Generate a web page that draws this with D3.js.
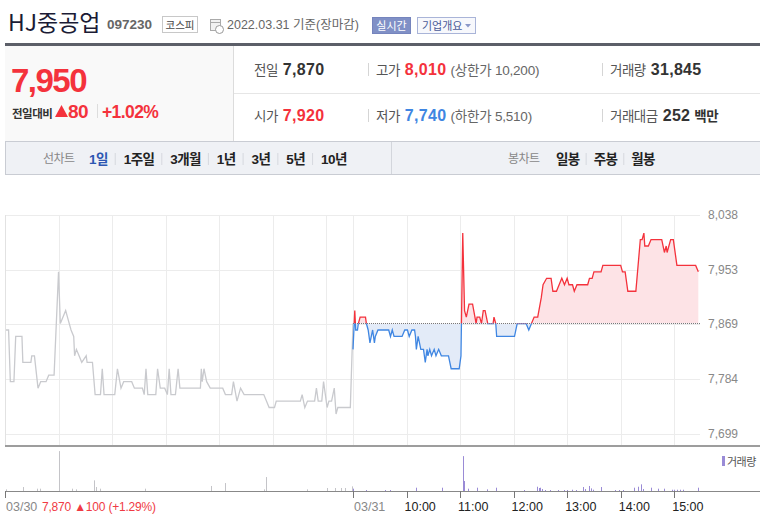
<!DOCTYPE html>
<html>
<head>
<meta charset="utf-8">
<script src="https://cdn.jsdelivr.net/npm/d3@7"></script>
<style>
body { margin: 0; background: #fff; }
svg { display: block; font-family: "Liberation Sans", "Noto Sans CJK KR", sans-serif; }
.kr { font-family: "Noto Sans CJK KR", sans-serif; }
</style>
</head>
<body>
<svg id="chart" width="760" height="518"></svg>
<script>
// 03/30 (previous day) minute line, grey
var day1Times = [
  "09:00","09:04","09:06","09:10","09:12","09:19","09:20","09:29","09:30","09:33",
  "09:37","09:40","09:46","09:49","09:55","10:00","10:02","10:05","10:08","10:10",
  "10:14","10:17","10:18","10:20","10:23","10:26","10:31","10:32","10:38","10:41",
  "10:47","10:49","10:51","11:03","11:06","11:10","11:13","11:22","11:25","11:34",
  "11:36","11:38","11:40","11:49","11:51","11:54","11:59","12:02","12:04","12:06",
  "12:11","12:14","12:16","12:39","12:40","12:41","12:43","12:46","12:50","13:04",
  "13:07","13:14","13:16","13:20","13:24","13:28","13:50","13:53","13:56","14:02",
  "14:04","14:31","14:33","14:36","14:39","14:47","14:49","14:51","14:55","14:57",
  "15:01","15:03","15:06","15:09","15:11","15:13","15:27","15:30"
];
var day1Prices = [
  7860,7860,7780,7780,7850,7850,7810,7810,7820,7820,
  7770,7780,7780,7790,7790,7950,7870,7880,7890,7880,
  7860,7850,7820,7830,7820,7810,7820,7810,7810,7760,
  7760,7800,7760,7760,7800,7770,7780,7780,7770,7770,
  7760,7800,7760,7760,7800,7770,7770,7760,7800,7760,
  7760,7800,7770,7770,7800,7780,7800,7780,7770,7770,
  7760,7760,7780,7750,7770,7760,7760,7750,7740,7740,
  7750,7750,7760,7740,7750,7750,7770,7750,7750,7780,
  7740,7750,7750,7770,7730,7740,7740,7870
];

// 03/31 minute line, red above / blue below previous close
var day2Times = [
  "09:00","09:02","09:03","09:05","09:06","09:08","09:14","09:15","09:17","09:19",
  "09:22","09:24","09:25","09:28","09:40","09:42","09:44","09:46","09:55","09:58",
  "10:01","10:03","10:06","10:09","10:10","10:11","10:13","10:16","10:19","10:21",
  "10:23","10:24","10:26","10:28","10:31","10:33","10:36","10:39","10:47","10:50",
  "10:59","11:01","11:03","11:05","11:07","11:10","11:14","11:18","11:19","11:22",
  "11:24","11:26","11:28","11:31","11:37","11:38","11:40","11:41","12:01","12:04",
  "12:14","12:17","12:20","12:23","12:27","12:31","12:33","12:37","12:42","12:44",
  "12:48","12:51","12:54","12:57","13:00","13:02","13:06","13:08","13:11","13:23",
  "13:25","13:28","13:30","13:38","13:40","14:00","14:02","14:05","14:08","14:17",
  "14:22","14:24","14:26","14:27","14:31","14:34","14:46","14:49","14:51","14:52",
  "14:56","14:59","15:03","15:24","15:27"
];
var day2Prices = [
  7830,7890,7860,7860,7870,7880,7880,7870,7860,7840,
  7860,7840,7850,7860,7860,7850,7860,7850,7850,7860,
  7860,7850,7860,7860,7850,7830,7850,7830,7830,7810,
  7830,7820,7830,7820,7830,7820,7830,7820,7820,7800,
  7800,7820,8010,7890,7880,7900,7900,7870,7880,7880,
  7870,7890,7890,7870,7870,7880,7870,7850,7850,7870,
  7870,7860,7870,7880,7880,7910,7930,7940,7940,7920,
  7920,7930,7940,7930,7940,7930,7930,7920,7930,7930,
  7940,7940,7950,7950,7960,7960,7950,7950,7920,7920,
  8000,8000,8010,7990,7990,8000,8000,7980,7990,7980,
  8000,8000,7960,7960,7950
];

var prevClose = 7870;

// volume bars (shares)
var vol1Times = ["09:01","09:20","09:36","09:39","10:00","10:01","10:15","10:20","10:40","10:42",
                 "10:47","11:37","12:51","13:07","13:50","13:52","14:38","15:01","15:10","15:16",
                 "15:21","15:29"];
var vol1Values = [220,530,310,310,5320,400,310,220,1420,530,
                  310,310,670,1060,220,1860,220,400,400,400,
                  400,620];
var vol2Times = ["09:00","09:15","09:36","09:41","10:11","10:40","11:03","11:04","11:09","11:19",
                 "11:30","11:40","12:12","12:26","12:28","12:30","12:32","12:35","12:41","12:50",
                 "12:56","13:00","13:05","13:10","13:18","13:20","13:24","13:27","13:29","13:38",
                 "13:54","13:58","14:03","14:15","14:19","14:23","14:25","14:34","14:42","14:48",
                 "14:57","15:00","15:03","15:07","15:10","15:27"];
var vol2Values = [310,130,130,130,440,440,4650,1330,310,440,
                  220,440,130,570,400,440,260,130,130,130,
                  130,130,170,130,530,260,670,350,170,530,
                  130,130,130,440,570,890,260,440,310,310,
                  170,170,170,170,170,440];

var yTicks = [7699, 7784, 7869, 7953, 8038];
var hourTicks = ["09:00","10:00","11:00","12:00","13:00","14:00","15:00"];
var periodTabs = ["1일","1주일","3개월","1년","3년","5년","10년"];
var candleTabs = ["일봉","주봉","월봉"];

var RED = "#f4323c", BLUE = "#3f86e2";

function minutes(day, t) {
  var p = t.split(":");
  return day * 390 + (+p[0] - 9) * 60 + (+p[1]);
}

var svg = d3.select("#chart");

var x = d3.scaleLinear().domain([0, 780]).range([5, 701]);
var y = d3.scaleLinear().domain([7699, 8038]).range([434, 215]);
var yVol = d3.scaleLinear().domain([0, 5600]).range([491, 449]);

function txt(g, xx, yy, s, opts) {
  var t = g.append("text").attr("x", xx).attr("y", yy).text(s);
  opts = opts || {};
  t.attr("font-size", opts.size || 13)
   .attr("fill", opts.fill || "#333")
   .attr("font-weight", opts.weight || "normal");
  if (opts.anchor) t.attr("text-anchor", opts.anchor);
  if (opts.ls) t.attr("letter-spacing", opts.ls);
  if (opts.kr) t.classed("kr", true);
  return t;
}

// ---------- header ----------
var head = svg.append("g");
txt(head, 8, 31, "HJ중공업", {size: 23, fill: "#1b1b35", kr: true});
txt(head, 107, 29, "097230", {size: 13.5, fill: "#666", weight: "bold"});
head.append("rect").attr("x", 162.5).attr("y", 16.5).attr("width", 35).attr("height", 16)
  .attr("fill", "#fff").attr("stroke", "#c8c8c8");
txt(head, 180, 28.5, "코스피", {size: 10.5, fill: "#444", anchor: "middle", kr: true});
// calendar icon
head.append("rect").attr("x", 210.5).attr("y", 19.5).attr("width", 10).attr("height", 11)
  .attr("fill", "#f2f2f2").attr("stroke", "#aaa");
head.append("line").attr("x1", 211).attr("x2", 220).attr("y1", 22.5).attr("y2", 22.5).attr("stroke", "#aaa");
head.append("circle").attr("cx", 219.5).attr("cy", 29.5).attr("r", 4)
  .attr("fill", "#fff").attr("stroke", "#999");
txt(head, 227, 29, "2022.03.31 기준(장마감)", {size: 12.5, fill: "#666"});
head.append("rect").attr("x", 372.5).attr("y", 17.5).attr("width", 38).attr("height", 16)
  .attr("fill", "#8090c6").attr("stroke", "#7584bd");
txt(head, 391.5, 29.5, "실시간", {size: 11, fill: "#fff", anchor: "middle", kr: true});
head.append("rect").attr("x", 417.5).attr("y", 17.5).attr("width", 58).attr("height", 16)
  .attr("fill", "#f7f8fc").attr("stroke", "#a9b4d8");
txt(head, 422, 29.5, "기업개요", {size: 11, fill: "#4b5b99", kr: true});
head.append("path").attr("d", "M465,24 L471,24 L468,27.5 Z").attr("fill", "#8a98c8");

head.append("rect").attr("x", 5).attr("y", 43).attr("width", 755).attr("height", 3).attr("fill", "#5c5f68");

// price summary panel
head.append("rect").attr("x", 5).attr("y", 46).attr("width", 228).attr("height", 95).attr("fill", "#f9f9f9");
head.append("line").attr("x1", 233.5).attr("x2", 233.5).attr("y1", 46).attr("y2", 141).attr("stroke", "#dcdcdc");
head.append("line").attr("x1", 234).attr("x2", 760).attr("y1", 93.5).attr("y2", 93.5).attr("stroke", "#e6e6e6");

txt(head, 11, 92, "7,950", {size: 33, fill: RED, weight: "bold", ls: -1.5});
txt(head, 12, 118, "전일대비", {size: 11.5, fill: "#333", weight: "bold", kr: true, ls: -0.5});
head.append("path").attr("d", "M55,117 L61.5,105 L68,117 Z").attr("fill", RED);
txt(head, 68, 118, "80", {size: 19, fill: RED, weight: "bold", ls: -0.5});
head.append("line").attr("x1", 97.5).attr("x2", 97.5).attr("y1", 104).attr("y2", 118).attr("stroke", "#ddd");
txt(head, 102, 118, "+1.02%", {size: 17.5, fill: RED, weight: "bold", ls: -0.6});

var rows = [
  [{l: "전일", v: "7,870", c: "#333", x: 254}, {l: "고가", v: "8,010", c: RED, x: 376, extra: "(상한가 10,200)"}, {l: "거래량", v: "31,845", c: "#333", x: 610}],
  [{l: "시가", v: "7,920", c: RED, x: 254}, {l: "저가", v: "7,740", c: BLUE, x: 376, extra: "(하한가 5,510)"}, {l: "거래대금", v: "252", c: "#333", x: 610, unit: "백만"}]
];
rows.forEach(function(row, ri) {
  var by = ri === 0 ? 75 : 121;
  row.forEach(function(cell, ci) {
    if (ci > 0) {
      head.append("line").attr("x1", cell.x - 7.5).attr("x2", cell.x - 7.5)
        .attr("y1", by - 12).attr("y2", by + 1).attr("stroke", "#d5d5d5");
    }
    var lt = txt(head, cell.x, by, cell.l, {size: 13.5, fill: "#555", kr: true, ls: -0.5});
    var lw = lt.node().getComputedTextLength();
    var vt = txt(head, cell.x + lw + 5, by, cell.v, {size: 16, fill: cell.c, weight: "bold", ls: 0.3});
    var vw = vt.node().getComputedTextLength();
    if (cell.extra) txt(head, cell.x + lw + 5 + vw + 4, by, cell.extra, {size: 13.5, fill: "#666", ls: -0.2});
    if (cell.unit) txt(head, cell.x + lw + 5 + vw + 4, by, cell.unit, {size: 13.5, fill: "#333", weight: "bold", kr: true, ls: -0.5});
  });
});

// tab bar
var tabs = svg.append("g");
tabs.append("rect").attr("x", 5.5).attr("y", 141.5).attr("width", 760).attr("height", 33)
  .attr("fill", "#eff1f5").attr("stroke", "#c9ccd3");
tabs.append("line").attr("x1", 391.5).attr("x2", 391.5).attr("y1", 142).attr("y2", 174).attr("stroke", "#d3d6dc");
txt(tabs, 43, 163, "선차트", {size: 12, fill: "#888", kr: true, ls: -0.5});
var tx = 89;
periodTabs.forEach(function(s, i) {
  if (i > 0) {
    tabs.append("line").attr("x1", tx - 8.5).attr("x2", tx - 8.5).attr("y1", 153).attr("y2", 165).attr("stroke", "#d6d8de");
  }
  var t = txt(tabs, tx, 163.5, s, {size: 13.5, fill: i === 0 ? "#2d57b2" : "#222", weight: "bold", ls: -0.6});
  tx += t.node().getComputedTextLength() + 16;
});
txt(tabs, 508, 163, "봉차트", {size: 12, fill: "#888", kr: true, ls: -0.5});
tx = 556;
candleTabs.forEach(function(s, i) {
  if (i > 0) {
    tabs.append("line").attr("x1", tx - 7.5).attr("x2", tx - 7.5).attr("y1", 153).attr("y2", 165).attr("stroke", "#d6d8de");
  }
  var t = txt(tabs, tx, 163.5, s, {size: 13.5, fill: "#222", weight: "bold", ls: -0.6});
  tx += t.node().getComputedTextLength() + 14;
});

// ---------- price chart ----------
var grid = svg.append("g");
grid.selectAll("line.h").data(yTicks).enter().append("line")
  .attr("x1", 5).attr("x2", 700)
  .attr("y1", function(d) { return Math.round(y(d)) + 0.5; })
  .attr("y2", function(d) { return Math.round(y(d)) + 0.5; })
  .attr("stroke", "#ececec");

var vLines = [];
hourTicks.forEach(function(t) { vLines.push(minutes(0, t)); });
vLines.push(390);
hourTicks.slice(1).forEach(function(t) { vLines.push(minutes(1, t)); });
grid.selectAll("line.v").data(vLines).enter().append("line")
  .attr("x1", function(d) { return Math.round(x(d)) + 0.5; })
  .attr("x2", function(d) { return Math.round(x(d)) + 0.5; })
  .attr("y1", 215).attr("y2", 446)
  .attr("stroke", "#ececec");

grid.selectAll("text.ylab").data(yTicks).enter().append("text")
  .attr("x", 708).attr("y", function(d) { return y(d) + 4; })
  .attr("font-size", 12).attr("fill", "#888")
  .text(d3.format(","));

var day1 = day1Times.map(function(t, i) { return {m: minutes(0, t), v: day1Prices[i]}; });
var day2 = day2Times.map(function(t, i) { return {m: minutes(1, t), v: day2Prices[i]}; });

var line = d3.line().x(function(d) { return x(d.m); }).y(function(d) { return y(d.v); });
var area = d3.area().x(function(d) { return x(d.m); })
  .y0(y(prevClose)).y1(function(d) { return y(d.v); });

svg.append("path").datum(day1).attr("d", line)
  .attr("fill", "none").attr("stroke", "#c9cace").attr("stroke-width", 1.3);

var defs = svg.append("defs");
defs.append("clipPath").attr("id", "above").append("rect")
  .attr("x", 0).attr("y", 0).attr("width", 760).attr("height", y(prevClose));
defs.append("clipPath").attr("id", "below").append("rect")
  .attr("x", 0).attr("y", y(prevClose)).attr("width", 760).attr("height", 518 - y(prevClose));

svg.append("path").datum(day2).attr("d", area).attr("clip-path", "url(#above)").attr("fill", "#fde3e6");
svg.append("path").datum(day2).attr("d", area).attr("clip-path", "url(#below)").attr("fill", "#e3ebf8");

svg.append("line").attr("x1", x(390)).attr("x2", 700)
  .attr("y1", y(prevClose)).attr("y2", y(prevClose))
  .attr("stroke", "#777").attr("stroke-dasharray", "1,1");

svg.append("path").datum(day2).attr("d", line).attr("clip-path", "url(#above)")
  .attr("fill", "none").attr("stroke", RED).attr("stroke-width", 1.3);
svg.append("path").datum(day2).attr("d", line).attr("clip-path", "url(#below)")
  .attr("fill", "none").attr("stroke", BLUE).attr("stroke-width", 1.3);

svg.append("line").attr("x1", 5.5).attr("x2", 5.5).attr("y1", 215).attr("y2", 446).attr("stroke", "#e2e2e2");
svg.append("rect").attr("x", 5).attr("y", 445).attr("width", 755).attr("height", 2).attr("fill", "#9d9d9d");

// ---------- volume ----------
var vol1 = vol1Times.map(function(t, i) { return {m: minutes(0, t), v: vol1Values[i]}; });
var vol2 = vol2Times.map(function(t, i) { return {m: minutes(1, t), v: vol2Values[i]}; });

svg.append("g").selectAll("rect").data(vol1).enter().append("rect")
  .attr("x", function(d) { return Math.round(x(d.m)); })
  .attr("y", function(d) { return yVol(d.v); })
  .attr("width", 1)
  .attr("height", function(d) { return 491 - yVol(d.v); })
  .attr("fill", "#c4c4c8");
svg.append("g").selectAll("rect").data(vol2).enter().append("rect")
  .attr("x", function(d) { return Math.round(x(d.m)); })
  .attr("y", function(d) { return yVol(d.v); })
  .attr("width", 1)
  .attr("height", function(d) { return 491 - yVol(d.v); })
  .attr("fill", "#9a8bd6");

svg.append("rect").attr("x", 722).attr("y", 456).attr("width", 3).attr("height", 10).attr("fill", "#9a8bd6");
txt(svg, 727, 465.5, "거래량", {size: 11, fill: "#555", kr: true, ls: -0.5});

svg.append("line").attr("x1", 5).attr("x2", 760).attr("y1", 491.5).attr("y2", 491.5).attr("stroke", "#888");

// x axis ticks and labels
var xTicks = [{m: 0, label: "03/30", date: true}, {m: 390, label: "03/31", date: true}];
hourTicks.slice(1).forEach(function(t) { xTicks.push({m: minutes(1, t), label: t}); });
var xa = svg.append("g");
xa.selectAll("line").data(xTicks).enter().append("line")
  .attr("x1", function(d) { return Math.round(x(d.m)) + 0.5; })
  .attr("x2", function(d) { return Math.round(x(d.m)) + 0.5; })
  .attr("y1", 491).attr("y2", 498).attr("stroke", "#777");
xa.selectAll("text").data(xTicks).enter().append("text")
  .attr("x", function(d) { return d.date ? x(d.m) + 1 : x(d.m) - 2; })
  .attr("y", 511)
  .attr("font-size", 12.5)
  .attr("fill", function(d) { return d.date ? "#888" : "#222"; })
  .text(function(d) { return d.label; });
txt(svg, 42, 511, "7,870 ▲100 (+1.29%)", {size: 12, fill: "#f03a44", ls: -0.2});
</script>
</body>
</html>
